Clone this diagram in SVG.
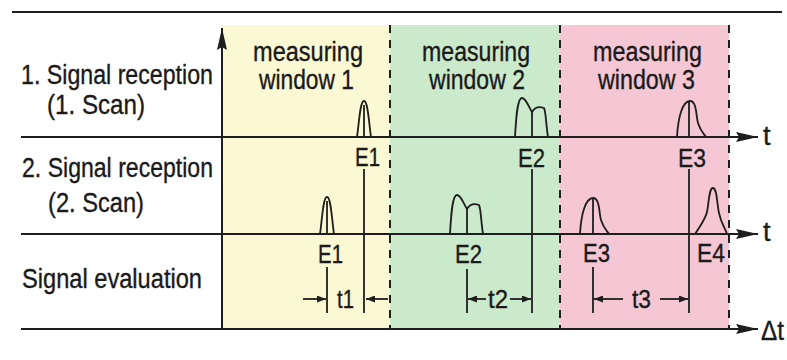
<svg xmlns="http://www.w3.org/2000/svg" width="787" height="360" viewBox="0 0 787 360">
<defs>
<style>
.ln{stroke:#1e1e1e;stroke-width:2;fill:none}
.th{stroke:#1e1e1e;stroke-width:1.8;fill:none}
.dash{stroke:#1e1e1e;stroke-width:2;stroke-dasharray:8,7;fill:none}
.pl{stroke:#1e1e1e;stroke-width:1.8;fill:none;stroke-linejoin:round}
text{font-family:"Liberation Sans",Arial,sans-serif;fill:#1a1a1a;stroke:#1a1a1a;stroke-width:0.35}
.lbl{font-size:27px}
.win{font-size:27px}
.ev{font-size:26px}
</style>
<marker id="ax" viewBox="0 0 22 12" refX="22" refY="6" markerWidth="22" markerHeight="12" orient="auto" markerUnits="userSpaceOnUse">
<path d="M0,1 L22,6 L0,11 L3,6 z" fill="#1e1e1e"/>
</marker>
<marker id="sa" viewBox="0 0 9 7" refX="9" refY="3.5" markerWidth="9" markerHeight="7" orient="auto" markerUnits="userSpaceOnUse">
<path d="M0,0 L9,3.5 L0,7 z" fill="#1e1e1e"/>
</marker>
</defs>
<rect width="787" height="360" fill="#ffffff"/>

<g id="windows">
<rect x="222" y="25" width="168" height="304" fill="#fbf9d3"/>
<rect x="390" y="25" width="170" height="304" fill="#cbe9cb"/>
<rect x="560" y="25" width="169" height="304" fill="#f5c6d3"/>
</g>

<g id="labels">
<text class="lbl" x="21" y="84" textLength="192" lengthAdjust="spacingAndGlyphs">1. Signal reception</text>
<text class="lbl" x="47" y="114" textLength="98" lengthAdjust="spacingAndGlyphs">(1. Scan)</text>
<text class="lbl" x="22" y="177" textLength="191" lengthAdjust="spacingAndGlyphs">2. Signal reception</text>
<text class="lbl" x="48" y="212" textLength="96" lengthAdjust="spacingAndGlyphs">(2. Scan)</text>
<text class="lbl" x="22" y="288" textLength="180" lengthAdjust="spacingAndGlyphs">Signal evaluation</text>
</g>

<g id="window1">
<text class="win" x="253" y="61" textLength="110" lengthAdjust="spacingAndGlyphs">measuring</text>
<text class="win" x="259" y="89" textLength="95" lengthAdjust="spacingAndGlyphs">window 1</text>
</g>
<g id="window2">
<text class="win" x="422" y="61" textLength="108" lengthAdjust="spacingAndGlyphs">measuring</text>
<text class="win" x="429" y="89" textLength="96" lengthAdjust="spacingAndGlyphs">window 2</text>
</g>
<g id="window3">
<text class="win" x="593" y="61" textLength="109" lengthAdjust="spacingAndGlyphs">measuring</text>
<text class="win" x="598" y="89" textLength="97" lengthAdjust="spacingAndGlyphs">window 3</text>
</g>

<g id="axes">
<line class="ln" x1="12" y1="12" x2="782" y2="12"/>
<line class="ln" x1="222" y1="329" x2="222" y2="28" marker-end="url(#ax)"/>
<line class="ln" x1="21" y1="137" x2="758" y2="137" marker-end="url(#ax)"/>
<line class="ln" x1="21" y1="234" x2="758" y2="234" marker-end="url(#ax)"/>
<line class="ln" x1="21" y1="329" x2="758" y2="329" marker-end="url(#ax)"/>
<line class="dash" x1="390" y1="25" x2="390" y2="329"/>
<line class="dash" x1="560" y1="25" x2="560" y2="329"/>
<line class="dash" x1="729" y1="25" x2="729" y2="329"/>
<text class="lbl" x="763" y="145">t</text>
<text class="lbl" x="763" y="241">t</text>
<text class="lbl" x="761" y="340" textLength="23" lengthAdjust="spacingAndGlyphs">Δt</text>
</g>

<g id="pulses">
<path class="pl" d="M357,137 C359,124 360,101 364,101 C368,101 369,124 371,137"/>
<line class="pl" x1="364" y1="105" x2="364" y2="137"/>
<path class="pl" d="M320,234 C322,221 323,197 327,197 C331,197 332,221 334,234"/>
<line class="pl" x1="327" y1="201" x2="327" y2="234"/>

<path class="pl" d="M515,137 C516,120 517,98 522,98 C526,98 528,106 532,112 C535,107 539,106 544,108 C546,112 546,125 548,137"/>
<line class="pl" x1="532" y1="112" x2="532" y2="137"/>
<path class="pl" d="M450,234 C451,217 452,195 457,195 C461,195 463,203 467,209 C470,204 474,203 479,205 C481,209 481,222 483,234"/>
<line class="pl" x1="467" y1="209" x2="467" y2="234"/>

<path class="pl" d="M677,137 C678,119 682,101 690,101 C697,101 696,117 698,123 C700,130 703,133 706,137"/>
<line class="pl" x1="689" y1="102" x2="689" y2="137"/>
<path class="pl" d="M580,234 C581,216 585,198 593,198 C600,198 599,214 601,220 C603,227 606,230 609,234"/>
<line class="pl" x1="593" y1="199" x2="593" y2="234"/>
<path class="pl" d="M695,234 C700,226 705,220 707,212 C709,202 709,188 713,188 C717,188 717,204 719,213 C721,223 725,228 727,234"/>
</g>

<g id="events">
<text class="ev" x="355" y="166" textLength="25" lengthAdjust="spacingAndGlyphs">E1</text>
<text class="ev" x="318" y="263" textLength="25" lengthAdjust="spacingAndGlyphs">E1</text>
<text class="ev" x="518" y="167" textLength="27" lengthAdjust="spacingAndGlyphs">E2</text>
<text class="ev" x="455" y="263" textLength="27" lengthAdjust="spacingAndGlyphs">E2</text>
<text class="ev" x="678" y="167" textLength="28" lengthAdjust="spacingAndGlyphs">E3</text>
<text class="ev" x="583" y="262" textLength="27" lengthAdjust="spacingAndGlyphs">E3</text>
<text class="ev" x="697" y="262" textLength="28" lengthAdjust="spacingAndGlyphs">E4</text>
</g>

<g id="connectors">
<line class="th" x1="364" y1="169" x2="364" y2="313"/>
<line class="th" x1="327" y1="267" x2="327" y2="313"/>
<line class="th" x1="532" y1="169" x2="532" y2="313"/>
<line class="th" x1="467" y1="269" x2="467" y2="313"/>
<line class="th" x1="689" y1="169" x2="689" y2="313"/>
<line class="th" x1="593" y1="267" x2="593" y2="313"/>
<line class="th" x1="303" y1="299" x2="326" y2="299" marker-end="url(#sa)"/>
<line class="th" x1="388" y1="299" x2="366" y2="299" marker-end="url(#sa)"/>
<line class="th" x1="486" y1="299" x2="468" y2="299" marker-end="url(#sa)"/>
<line class="th" x1="510" y1="299" x2="531" y2="299" marker-end="url(#sa)"/>
<line class="th" x1="623" y1="299" x2="594" y2="299" marker-end="url(#sa)"/>
<line class="th" x1="660" y1="299" x2="688" y2="299" marker-end="url(#sa)"/>
<text class="ev" x="337" y="308" textLength="17" lengthAdjust="spacingAndGlyphs">t1</text>
<text class="ev" x="488" y="308" textLength="20" lengthAdjust="spacingAndGlyphs">t2</text>
<text class="ev" x="632" y="308" textLength="19" lengthAdjust="spacingAndGlyphs">t3</text>
</g>
</svg>
